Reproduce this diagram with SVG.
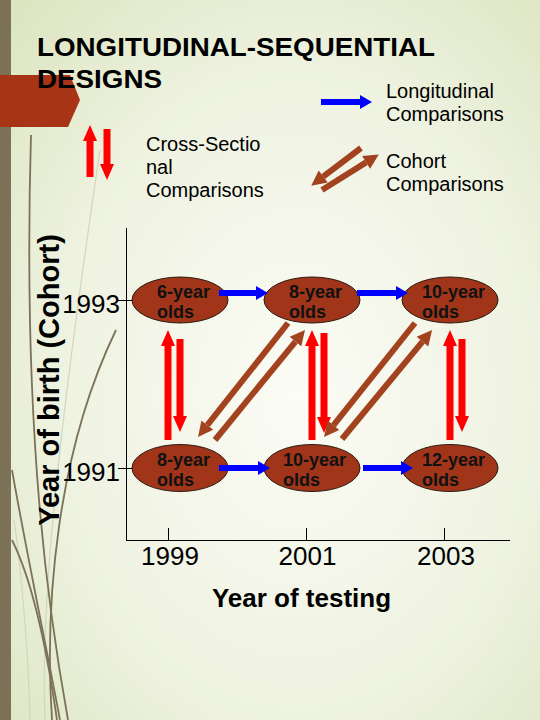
<svg xmlns="http://www.w3.org/2000/svg" width="540" height="720" viewBox="0 0 540 720">
<defs>
<radialGradient id="bg" cx="0.55" cy="0.55" r="0.75">
<stop offset="0" stop-color="#fbfcf5"/>
<stop offset="0.6" stop-color="#eef2e0"/>
<stop offset="1" stop-color="#dce5c0"/>
</radialGradient>
<marker id="hr" markerUnits="userSpaceOnUse" markerWidth="18" markerHeight="16" refX="0" refY="7" orient="auto" overflow="visible"><path d="M0,0 L16,7 L0,14 z" fill="#ff0000"/></marker>
<marker id="hb" markerUnits="userSpaceOnUse" markerWidth="14" markerHeight="16" refX="0" refY="7" orient="auto" overflow="visible"><path d="M0,0 L12,7 L0,14 z" fill="#0000ff"/></marker>
<marker id="hc" markerUnits="userSpaceOnUse" markerWidth="16" markerHeight="16" refX="0" refY="7.5" orient="auto" overflow="visible"><path d="M0,0 L15,7.5 L0,15 z" fill="#a3421e"/></marker>
<style>
.red{stroke:#ff0000;stroke-width:7;fill:none;marker-end:url(#hr)}
.blue{stroke:#0000ff;stroke-width:6;fill:none;marker-end:url(#hb)}
.coh{stroke:#a3421e;stroke-width:6;fill:none;marker-end:url(#hc)}
.grass{stroke:#7b7257;stroke-width:1.8;fill:none}
.faint{stroke:#d2d6bb;stroke-width:1.2;fill:none}
.node ellipse{fill:#a0351a;stroke:#2a1a10;stroke-width:1}
.node text{font-family:"Liberation Sans",Arial,sans-serif;font-weight:bold;font-size:18px;fill:#111}
.leg{font-family:"Liberation Sans",Arial,sans-serif;font-size:20px;fill:#000}
.yr{font-family:"Liberation Sans",Arial,sans-serif;font-size:26px;fill:#000}
.ttl{font-family:"Liberation Sans",Arial,sans-serif;font-weight:bold;fill:#000}
.ax{stroke:#000;stroke-width:1;fill:none}
</style>
</defs>
<rect width="540" height="720" fill="url(#bg)"/>
<rect x="0" y="0" width="11" height="720" fill="#7b7257"/>
<g id="grass">
<path class="faint" d="M45 720 C 40 600, 60 420, 100 150"/>
<path class="faint" d="M30 720 C 28 640, 20 560, 14 520"/>
<path class="grass" d="M60 720 C 45 640, 28 560, 12 470"/>
<path class="grass" d="M68 720 C 50 620, 22 440, 31 135"/>
<path class="grass" d="M52 720 C 44 600, 58 450, 116 330"/>
<path class="grass" d="M57 720 C 47 650, 32 580, 12 540"/>
</g>
<polygon points="0,75 70,75 80,100 68,127 0,127" fill="#a83416"/>
<text class="ttl" x="37" y="56" font-size="26" textLength="398" lengthAdjust="spacingAndGlyphs">LONGITUDINAL-SEQUENTIAL</text>
<text class="ttl" x="37" y="88" font-size="26" textLength="125" lengthAdjust="spacingAndGlyphs">DESIGNS</text>
<g id="legend">
<line class="red" x1="90" y1="177" x2="90" y2="141"/>
<line class="red" x1="107" y1="129" x2="107" y2="164"/>
<text class="leg" x="146" y="151">Cross-Sectio</text>
<text class="leg" x="146" y="174">nal</text>
<text class="leg" x="146" y="197">Comparisons</text>
<line class="blue" x1="321" y1="102" x2="360" y2="102"/>
<text class="leg" x="386" y="98">Longitudinal</text>
<text class="leg" x="386" y="121">Comparisons</text>
<line class="coh" x1="361" y1="148" x2="323.2" y2="176.6"/>
<line class="coh" x1="322" y1="190" x2="366.1" y2="162.4"/>
<text class="leg" x="386" y="168">Cohort</text>
<text class="leg" x="386" y="191">Comparisons</text>
</g>
<g id="axes">
<line class="ax" x1="126.5" y1="228" x2="126.5" y2="541"/>
<line class="ax" x1="126" y1="540.5" x2="510" y2="540.5"/>
<line class="ax" x1="168.5" y1="528" x2="168.5" y2="541"/>
<line class="ax" x1="306.5" y1="528" x2="306.5" y2="541"/>
<line class="ax" x1="444.5" y1="528" x2="444.5" y2="541"/>
<line class="ax" x1="118" y1="300.5" x2="135" y2="300.5"/>
<line class="ax" x1="118" y1="468.5" x2="135" y2="468.5"/>
<text class="yr" x="120" y="313" text-anchor="end">1993</text>
<text class="yr" x="120" y="481" text-anchor="end">1991</text>
<text class="yr" x="170" y="565" text-anchor="middle">1999</text>
<text class="yr" x="307.5" y="565" text-anchor="middle">2001</text>
<text class="yr" x="446" y="565" text-anchor="middle">2003</text>
<text class="ttl" x="301.5" y="607" font-size="26" text-anchor="middle">Year of testing</text>
<text class="ttl" x="0" y="0" font-size="29" text-anchor="middle" transform="translate(59,380) rotate(-90)">Year of birth (Cohort)</text>
</g>
<g id="n1" class="node"><ellipse cx="180" cy="300" rx="48" ry="23"/><text x="157" y="298">6-year</text><text x="157" y="318">olds</text></g>
<g id="n2" class="node"><ellipse cx="312" cy="300" rx="48" ry="23"/><text x="289" y="298">8-year</text><text x="289" y="318">olds</text></g>
<g id="n3" class="node"><ellipse cx="450" cy="300" rx="48" ry="23"/><text x="422" y="298">10-year</text><text x="422" y="318">olds</text></g>
<g id="n4" class="node"><ellipse cx="180" cy="468" rx="48" ry="23.5"/><text x="157" y="466">8-year</text><text x="157" y="486">olds</text></g>
<g id="n5" class="node"><ellipse cx="312" cy="468" rx="48" ry="23.5"/><text x="283" y="466">10-year</text><text x="283" y="486">olds</text></g>
<g id="n6" class="node"><ellipse cx="450" cy="468" rx="48" ry="23.5"/><text x="422" y="466">12-year</text><text x="422" y="486">olds</text></g>
<g id="connectors">
<line class="blue" x1="219" y1="293" x2="256" y2="293"/>
<line class="blue" x1="357" y1="293" x2="396" y2="293"/>
<line class="blue" x1="219" y1="468" x2="258" y2="468"/>
<line class="blue" x1="363" y1="468" x2="401" y2="468"/>
<line class="red" x1="168" y1="440" x2="168" y2="346"/>
<line class="red" x1="180" y1="339" x2="180" y2="416"/>
<line class="red" x1="312" y1="440" x2="312" y2="346"/>
<line class="red" x1="324" y1="333" x2="324" y2="417"/>
<line class="red" x1="450" y1="440" x2="450" y2="346"/>
<line class="red" x1="462" y1="339" x2="462" y2="416"/>
<line class="coh" x1="288" y1="323" x2="207.3" y2="425.2"/>
<line class="coh" x1="215" y1="440" x2="295.5" y2="341.6"/>
<line class="coh" x1="415" y1="323" x2="333.4" y2="425.3"/>
<line class="coh" x1="342" y1="439" x2="422.5" y2="341.6"/>
</g>
</svg>
